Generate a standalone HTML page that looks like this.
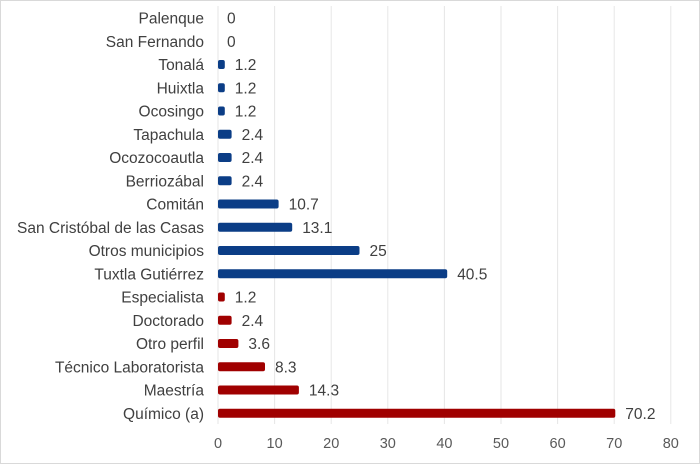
<!DOCTYPE html><html><head><style>body{margin:0;background:#fff}</style></head><body>
<svg width="700" height="464" xmlns="http://www.w3.org/2000/svg" font-family="Liberation Sans, sans-serif" font-size="15.5" fill="#404040">
<rect x="0.5" y="0.5" width="699" height="463" fill="#fff" stroke="#d9d9d9"/>
<g stroke="#e6e6e6" stroke-width="1">
<line x1="218" y1="6" x2="218" y2="424"/><line x1="274.6" y1="6" x2="274.6" y2="424"/><line x1="331.2" y1="6" x2="331.2" y2="424"/><line x1="387.8" y1="6" x2="387.8" y2="424"/><line x1="444.4" y1="6" x2="444.4" y2="424"/><line x1="501" y1="6" x2="501" y2="424"/><line x1="557.6" y1="6" x2="557.6" y2="424"/><line x1="614.2" y1="6" x2="614.2" y2="424"/><line x1="670.8" y1="6" x2="670.8" y2="424"/>
</g>
<g text-anchor="middle" fill="#595959" font-size="14.5">
<text x="218" y="448">0</text><text x="274.6" y="448">10</text><text x="331.2" y="448">20</text><text x="387.8" y="448">30</text><text x="444.4" y="448">40</text><text x="501" y="448">50</text><text x="557.6" y="448">60</text><text x="614.2" y="448">70</text><text x="670.8" y="448">80</text>
</g>
<g text-anchor="end">
<text x="204" y="23.5">Palenque</text>
<text x="204" y="46.75">San Fernando</text>
<text x="204" y="70">Tonalá</text>
<text x="204" y="93.25">Huixtla</text>
<text x="204" y="116.5">Ocosingo</text>
<text x="204" y="139.75">Tapachula</text>
<text x="204" y="163">Ocozocoautla</text>
<text x="204" y="186.25">Berriozábal</text>
<text x="204" y="209.5">Comitán</text>
<text x="204" y="232.75">San Cristóbal de las Casas</text>
<text x="204" y="256">Otros municipios</text>
<text x="204" y="279.25">Tuxtla Gutiérrez</text>
<text x="204" y="302.5">Especialista</text>
<text x="204" y="325.75">Doctorado</text>
<text x="204" y="349">Otro perfil</text>
<text x="204" y="372.25">Técnico Laboratorista</text>
<text x="204" y="395.5">Maestría</text>
<text x="204" y="418.75">Químico (a)</text>
</g>
<g fill="#0b3d86">
<rect x="218" y="60" width="6.8" height="9" rx="2"/>
<rect x="218" y="83.25" width="6.8" height="9" rx="2"/>
<rect x="218" y="106.5" width="6.8" height="9" rx="2"/>
<rect x="218" y="129.75" width="13.6" height="9" rx="2"/>
<rect x="218" y="153" width="13.6" height="9" rx="2"/>
<rect x="218" y="176.25" width="13.6" height="9" rx="2"/>
<rect x="218" y="199.5" width="60.6" height="9" rx="2"/>
<rect x="218" y="222.75" width="74.2" height="9" rx="2"/>
<rect x="218" y="246" width="141.5" height="9" rx="2"/>
<rect x="218" y="269.25" width="229.2" height="9" rx="2"/>
</g>
<g fill="#a00000">
<rect x="218" y="292.5" width="6.8" height="9" rx="2"/>
<rect x="218" y="315.75" width="13.6" height="9" rx="2"/>
<rect x="218" y="339" width="20.4" height="9" rx="2"/>
<rect x="218" y="362.25" width="47" height="9" rx="2"/>
<rect x="218" y="385.5" width="80.9" height="9" rx="2"/>
<rect x="218" y="408.75" width="397.3" height="9" rx="2"/>
</g>
<g>
<text x="227" y="23.5">0</text>
<text x="227" y="46.75">0</text>
<text x="234.8" y="70">1.2</text>
<text x="234.8" y="93.25">1.2</text>
<text x="234.8" y="116.5">1.2</text>
<text x="241.6" y="139.75">2.4</text>
<text x="241.6" y="163">2.4</text>
<text x="241.6" y="186.25">2.4</text>
<text x="288.6" y="209.5">10.7</text>
<text x="302.2" y="232.75">13.1</text>
<text x="369.5" y="256">25</text>
<text x="457.2" y="279.25">40.5</text>
<text x="234.8" y="302.5">1.2</text>
<text x="241.6" y="325.75">2.4</text>
<text x="248.4" y="349">3.6</text>
<text x="275" y="372.25">8.3</text>
<text x="308.9" y="395.5">14.3</text>
<text x="625.3" y="418.75">70.2</text>
</g>
</svg></body></html>
